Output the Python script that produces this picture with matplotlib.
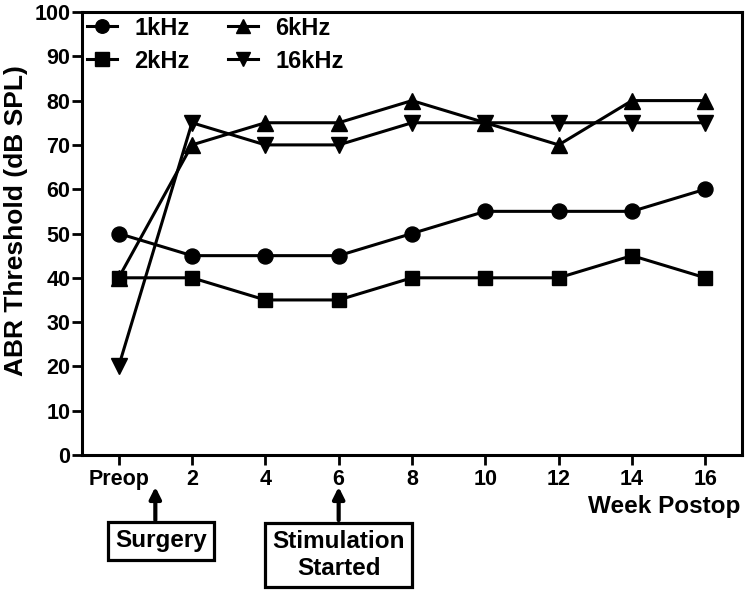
import matplotlib
matplotlib.use("Agg")
import matplotlib.pyplot as plt

plt.rcParams['font.family'] = ['Liberation Sans', 'DejaVu Sans']
plt.rcParams['font.weight'] = 'bold'

categories = ["Preop", "2", "4", "6", "8", "10", "12", "14", "16"]
khz1 = [50, 45, 45, 45, 50, 55, 55, 55, 60]
khz2 = [40, 40, 35, 35, 40, 40, 40, 45, 40]
khz6 = [40, 70, 75, 75, 80, 75, 70, 80, 80]
khz16 = [20, 75, 70, 70, 75, 75, 75, 75, 75]
yticks = [0, 10, 20, 30, 40, 50, 60, 70, 80, 90, 100]

fig = plt.figure(figsize=(7.5, 5.95), dpi=100)
ax = fig.add_axes([82/750, 1-455/595, (742-82)/750, (455-12)/595])

x = list(range(len(categories)))
lw = 2.2
l1, = ax.plot(x, khz1, color='black', lw=lw, marker='o', ms=10.8, zorder=4, label='1kHz')
l2, = ax.plot(x, khz2, color='black', lw=lw, marker='s', ms=10.5, zorder=4, label='2kHz')
l6, = ax.plot(x, khz6, color='black', lw=lw, marker='^', ms=11.5, zorder=3, label='6kHz')
l16, = ax.plot(x, khz16, color='black', lw=lw, marker='v', ms=11.5, zorder=3, label='16kHz')

ax.set_xlim(-0.5, 8.5)
ax.set_ylim(0, 100)
ax.set_xticks(x)
ax.set_xticklabels(categories)
ax.set_yticks(yticks)
ax.tick_params(axis='both', direction='out', length=7, width=2, labelsize=15.5)
ax.tick_params(axis='y', pad=1.5)
ax.tick_params(axis='x', pad=3)
for s in ax.spines.values():
    s.set_linewidth(2.2)
ax.set_ylabel('ABR Threshold (dB SPL)', fontsize=19, fontweight='bold')
ax.yaxis.set_label_coords(-0.082, 0.53)

ax.legend(handles=[l1, l2, l6, l16], ncol=2, loc='upper left', bbox_to_anchor=(0, 1),
          frameon=False, fontsize=17, handlelength=1.3, columnspacing=1.6,
          borderaxespad=0, borderpad=0.2, labelspacing=0.42, handletextpad=0.72,
          markerscale=0.9)

ax.text(0.997, -0.117, 'Week Postop', transform=ax.transAxes, ha='right', va='center',
        fontsize=17.5, fontweight='bold')

bbox = dict(boxstyle='square,pad=0.3', fc='white', ec='black', lw=2.3)
arrowprops = dict(arrowstyle='-|>', color='black', lw=3, mutation_scale=17, shrinkA=0, shrinkB=0)
box_top = -0.147
tip = -0.072
tr = ('data', 'axes fraction')
# Surgery
ax.annotate('', xy=(0.5, tip), xycoords=tr, xytext=(0.5, box_top), textcoords=tr,
            arrowprops=arrowprops, annotation_clip=False)
ax.annotate('Surgery', xy=(0.58, -0.194), xycoords=tr,
            ha='center', va='center', fontsize=17.5, fontweight='bold',
            bbox=bbox, annotation_clip=False, zorder=5)
# Stimulation
ax.annotate('', xy=(3, tip), xycoords=tr, xytext=(3, box_top), textcoords=tr,
            arrowprops=arrowprops, annotation_clip=False)
ax.annotate('Stimulation\nStarted', xy=(3, -0.226), xycoords=tr,
            ha='center', va='center', fontsize=17.5, fontweight='bold', linespacing=1.2,
            bbox=bbox, annotation_clip=False, zorder=5)

fig.savefig('out.png', dpi=100)
